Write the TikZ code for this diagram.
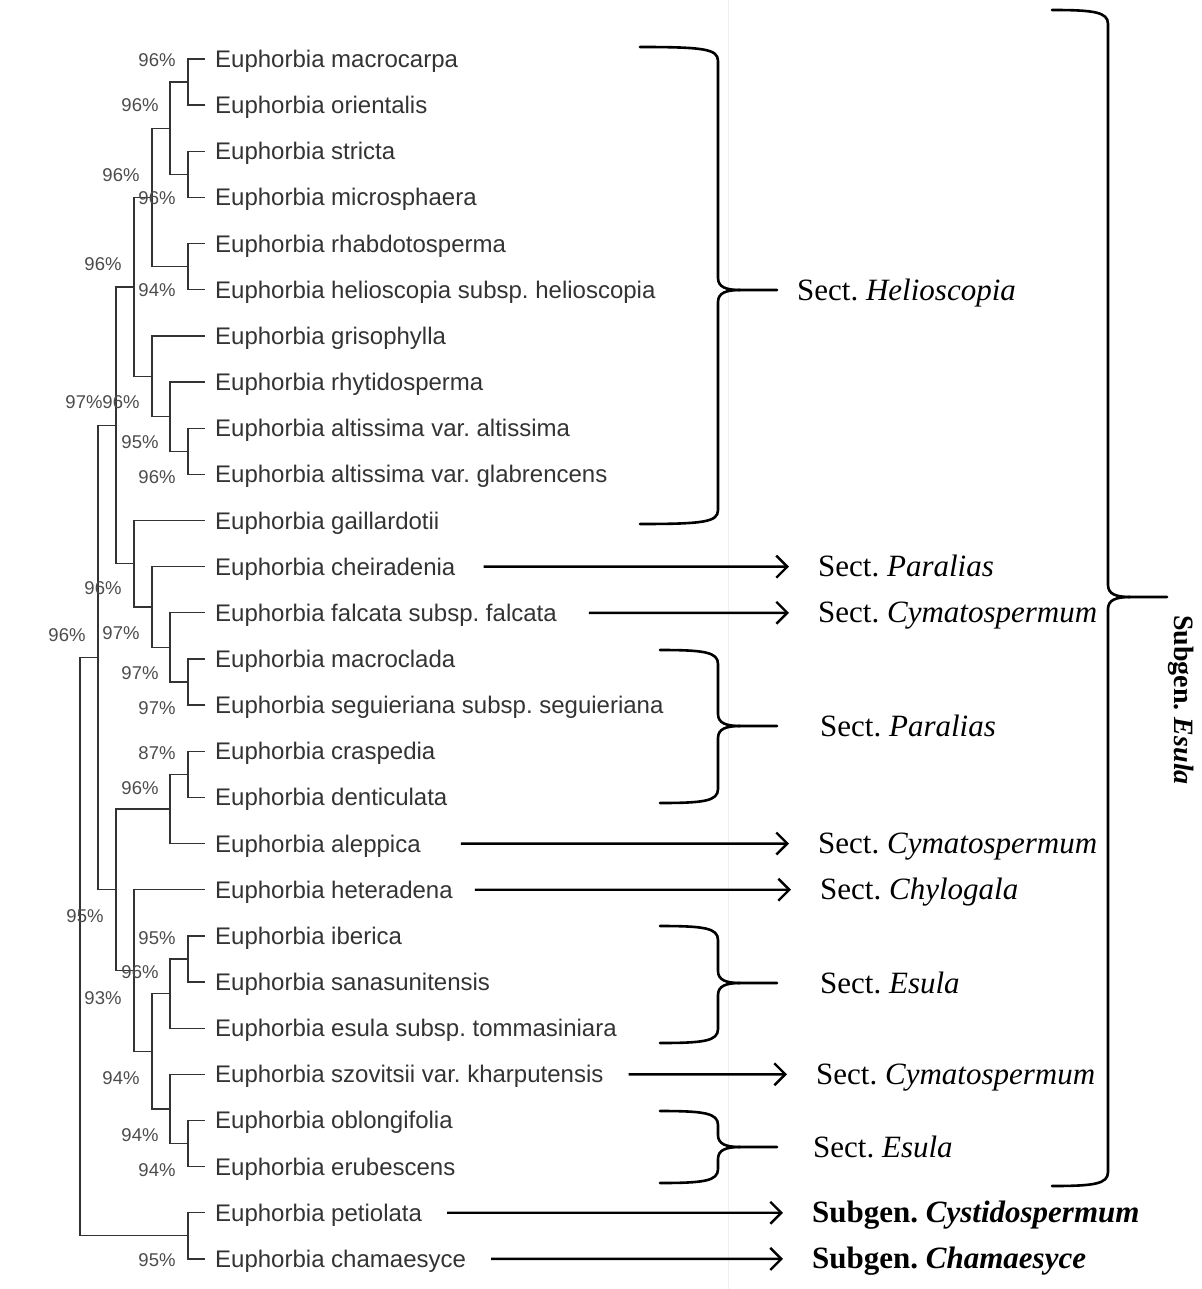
\documentclass[tikz,border=0pt]{standalone}
\usepackage{fontspec}
\setmainfont{Liberation Serif}
\newfontfamily\leaffont{Liberation Sans}
\usetikzlibrary{arrows.meta, positioning, calc}
\frenchspacing

\tikzset{
  leaf/.style={anchor=west, inner xsep=10pt, inner ysep=0pt, text height=17pt, text depth=0pt,
    text=black!80, font=\leaffont\fontsize{24}{28}\selectfont},
  boot/.style={inner sep=0pt, text height=13pt, text depth=0pt, text=black!70,
    font=\leaffont\fontsize{18.5}{22}\selectfont},
  branch/.style={draw=black!80, line width=1.3pt},
  sect/.style={anchor=west, inner sep=0pt, text height=20pt, text depth=0pt,
    font=\fontsize{31}{36}\selectfont},
  toarrow/.style={line width=2.4pt, -{Straight Barb[length=11pt,width=22pt]},
    shorten <=15pt, shorten >=29pt},
  sectbr/.style={line width=2.6pt, line join=round, line cap=round}
}

% curly bracket: left x, spine x, top y, tip y, bottom y
\newcommand{\sectbrace}[5]{%
  \draw[sectbr] (#1,#3) .. controls ({#2-14},#3) and (#2,{#3+2}) .. (#2,{#3+14})
    -- (#2,{#4-12}) .. controls (#2,{#4-3}) and ({#2+8},#4) .. ({#2+22},#4) -- ({#2+59},#4);
  \draw[sectbr] ({#2+22},#4) .. controls ({#2+8},#4) and (#2,{#4+3}) .. (#2,{#4+12})
    -- (#2,{#5-14}) .. controls (#2,{#5-2}) and ({#2-14},#5) .. (#1,#5);
}

\begin{document}
\begin{tikzpicture}[x=1pt, y=-1pt]
    \useasboundingbox (0,0) rectangle (1201,1289);
    \draw[black!6, line width=1pt] (728,0) -- (728,1289);

    % Taxa
    \foreach \i/\sp in {1/Euphorbia macrocarpa, 2/Euphorbia orientalis, 3/Euphorbia stricta,
        4/Euphorbia microsphaera, 5/Euphorbia rhabdotosperma,
        6/Euphorbia helioscopia subsp. helioscopia, 7/Euphorbia grisophylla,
        8/Euphorbia rhytidosperma, 9/Euphorbia altissima var. altissima,
        10/Euphorbia altissima var. glabrencens, 11/Euphorbia gaillardotii,
        12/Euphorbia cheiradenia, 13/Euphorbia falcata subsp. falcata,
        14/Euphorbia macroclada, 15/Euphorbia seguieriana subsp. seguieriana,
        16/Euphorbia craspedia, 17/Euphorbia denticulata, 18/Euphorbia aleppica,
        19/Euphorbia heteradena, 20/Euphorbia iberica, 21/Euphorbia sanasunitensis,
        22/Euphorbia esula subsp. tommasiniara, 23/Euphorbia szovitsii var. kharputensis,
        24/Euphorbia oblongifolia, 25/Euphorbia erubescens, 26/Euphorbia petiolata,
        27/Euphorbia chamaesyce} {
        \node[leaf] (l\i) at (205,{59+46.15*(\i-1)}) {\sp};
    }

    % Internal nodes of the tree
    \coordinate (a12) at (188,82.1);
    \coordinate (a34) at (188,174.4);
    \coordinate (a56) at (188,266.7);
    \coordinate (a910) at (188,451.3);
    \coordinate (a1415) at (188,682);
    \coordinate (a1617) at (188,774.3);
    \coordinate (a2021) at (188,958.9);
    \coordinate (a2425) at (188,1143.5);
    \coordinate (a2627) at (188,1235.8);
    \coordinate (b14) at (170,128.2);
    \coordinate (b8) at (170,416.7);
    \coordinate (b13) at (170,647.4);
    \coordinate (b18) at (170,808.9);
    \coordinate (b22) at (170,993.5);
    \coordinate (b23) at (170,1108.9);
    \coordinate (c16) at (152,197.4);
    \coordinate (c7) at (152,376.3);
    \coordinate (c12) at (152,607);
    \coordinate (c20) at (152,1051.2);
    \coordinate (d110) at (134,286.85);
    \coordinate (d11) at (134,563.75);
    \coordinate (d19) at (134,970.45);
    \coordinate (e111) at (116,425.3);
    \coordinate (e16) at (116,889.7);
    \coordinate (f118) at (98,657.5);
    \coordinate (root) at (80,946.65);

    % Branches
    \foreach \p/\c in {a12/l1, a12/l2, a34/l3, a34/l4, a56/l5, a56/l6, a910/l9, a910/l10,
        a1415/l14, a1415/l15, a1617/l16, a1617/l17, a2021/l20, a2021/l21,
        a2425/l24, a2425/l25, a2627/l26, a2627/l27,
        b14/a12, b14/a34, b8/l8, b8/a910, b13/l13, b13/a1415, b18/a1617, b18/l18,
        b22/a2021, b22/l22, b23/l23, b23/a2425,
        c16/b14, c16/a56, c7/l7, c7/b8, c12/l12, c12/b13, c20/b22, c20/b23,
        d110/c16, d110/c7, d11/l11, d11/c12, d19/l19, d19/c20,
        e111/d110, e111/d11, e16/b18, e16/d19,
        f118/e111, f118/e16, root/f118, root/a2627} {
        \draw[branch] (\p) |- (\c);
    }

    % Bootstrap values
    \foreach \x/\y/\v [count=\k] in {157/60/96, 140/105/96, 121/175/96, 157/198/96,
        103/264/96, 157/290/94, 84/402/97, 121/402/96, 140/442/95, 157/477/96,
        103/588/96, 67/635/96, 121/633/97, 140/673/97, 157/708/97, 157/753/87,
        140/788/96, 85/916/95, 157/938/95, 140/972/96, 103/998/93, 121/1078/94,
        140/1135/94, 157/1170/94, 157/1260/95} {
        \node[boot] (bs\k) at (\x,\y) {\v\%};
    }

    % Sections
    \node[sect] (hel) at (797,290) {Sect. \textit{Helioscopia}};
    \node[sect] (par1) at (818,566.65) {Sect. \textit{Paralias}};
    \node[sect] (cym1) at (818,612.8) {Sect. \textit{Cymatospermum}};
    \node[sect] (par2) at (820,726) {Sect. \textit{Paralias}};
    \node[sect] (cym2) at (818,843.55) {Sect. \textit{Cymatospermum}};
    \node[sect] (chy) at (820,889.7) {Sect. \textit{Chylogala}};
    \node[sect] (esu1) at (820,983) {Sect. \textit{Esula}};
    \node[sect] (cym3) at (816,1074.3) {Sect. \textit{Cymatospermum}};
    \node[sect] (esu2) at (813,1147) {Sect. \textit{Esula}};
    \node[sect] (cys) at (812,1212.75) {\textbf{Subgen. \textit{Cystidospermum}}};
    \node[sect] (cha) at (812,1258.9) {\textbf{Subgen. \textit{Chamaesyce}}};
    \node[sect, anchor=center, rotate=-90, font=\fontsize{28}{32}\selectfont] (subesu) at (1184,700)
        {\textbf{Subgen. \textit{Esula}}};

    % Arrows
    \draw[toarrow, shorten <=18pt] (l12) -- (par1);
    \draw[toarrow, shorten <=22pt] (l13) -- (cym1);
    \draw[toarrow, shorten <=30pt] (l18) -- (cym2);
    \draw[toarrow, shorten <=12pt] (l19) -- (chy);
    \draw[toarrow] (l23) -- (cym3);
    \draw[toarrow] (l26) -- (cys);
    \draw[toarrow] (l27) -- (cha);

    % Brackets
    \sectbrace{640}{718}{47}{290}{524}
    \sectbrace{660}{718}{650}{726}{803}
    \sectbrace{660}{718}{926}{983}{1043}
    \sectbrace{660}{718}{1111}{1147}{1183}
    \sectbrace{1052}{1108}{10}{597}{1186}
\end{tikzpicture}
\end{document}
